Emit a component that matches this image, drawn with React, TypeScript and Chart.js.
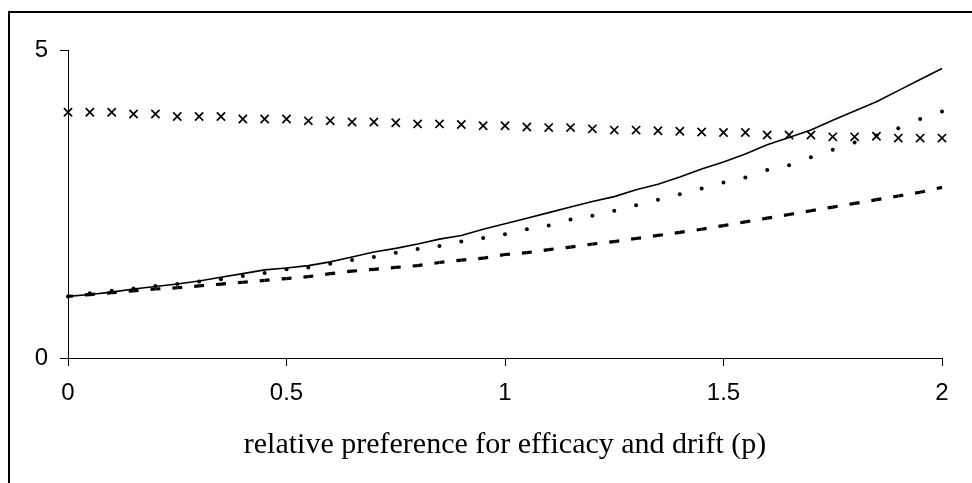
import React, { useEffect, useRef } from "react";
import { Chart, registerables } from "chart.js";

Chart.register(...registerables);

const P = [
  0, 0.05, 0.1, 0.15, 0.2, 0.25, 0.3, 0.35, 0.4, 0.45, 0.5, 0.55, 0.6, 0.65, 0.7, 0.75, 0.8, 0.85, 0.9, 0.95,
  1, 1.05, 1.1, 1.15, 1.2, 1.25, 1.3, 1.35, 1.4, 1.45, 1.5, 1.55, 1.6, 1.65, 1.7, 1.75, 1.8, 1.85, 1.9, 1.95, 2,
];

const SOLID = [
  1.0, 1.03, 1.07, 1.12, 1.16, 1.2, 1.25, 1.31, 1.37, 1.43, 1.46, 1.5, 1.56, 1.64, 1.72, 1.78, 1.85, 1.93, 1.99, 2.09,
  2.18, 2.27, 2.36, 2.45, 2.54, 2.62, 2.73, 2.82, 2.94, 3.07, 3.18, 3.31, 3.46, 3.58, 3.7, 3.86, 4.01, 4.16, 4.34, 4.52, 4.7,
];

const DOTTED = [
  1.0, 1.05, 1.09, 1.13, 1.17, 1.2, 1.24, 1.28, 1.33, 1.38, 1.44, 1.47, 1.53, 1.59, 1.64, 1.71, 1.77, 1.82, 1.89, 1.95,
  2.01, 2.09, 2.15, 2.25, 2.31, 2.39, 2.48, 2.57, 2.66, 2.75, 2.85, 2.93, 3.05, 3.13, 3.26, 3.38, 3.5, 3.61, 3.73, 3.88, 4.0,
];

const DASHED = [
  1.0, 1.03, 1.06, 1.09, 1.12, 1.14, 1.17, 1.2, 1.23, 1.26, 1.29, 1.32, 1.37, 1.41, 1.44, 1.47, 1.5, 1.55, 1.59, 1.62,
  1.68, 1.71, 1.76, 1.8, 1.85, 1.89, 1.94, 1.99, 2.04, 2.09, 2.15, 2.21, 2.27, 2.33, 2.39, 2.45, 2.51, 2.57, 2.63, 2.69, 2.77,
];

const CROSSES = [
  3.99, 3.99, 3.99, 3.96, 3.96, 3.92, 3.92, 3.92, 3.88, 3.88, 3.88, 3.85, 3.85, 3.83, 3.83, 3.82, 3.8, 3.8, 3.79, 3.77,
  3.77, 3.75, 3.74, 3.74, 3.72, 3.7, 3.7, 3.69, 3.68, 3.67, 3.66, 3.66, 3.62, 3.62, 3.62, 3.59, 3.59, 3.6, 3.57, 3.57, 3.57,
];

const X_TICKS = [0, 0.5, 1, 1.5, 2];
const X_TICK_LABELS = ["0", "0.5", "1", "1.5", "2"];
const Y_TICKS = [0, 5];
const Y_TICK_LABELS = ["0", "5"];
const X_TITLE = "relative preference for efficacy and drift (p)";

const toXY = (ys: number[]) => P.map((x, i) => ({ x, y: ys[i] }));

export default function App() {
  const canvasRef = useRef<HTMLCanvasElement | null>(null);

  useEffect(() => {
    const canvas = canvasRef.current;
    if (!canvas) return;
    const tickFont = { family: "'Liberation Sans', Arial, sans-serif", size: 24 };
    const chart = new Chart(canvas, {
      type: "scatter",
      data: {
        datasets: [
          {
            label: "solid",
            data: toXY(SOLID),
            showLine: true,
            borderColor: "#000",
            borderWidth: 1.6,
            pointRadius: 0,
            tension: 0,
            clip: false,
          },
          {
            label: "dashed",
            data: toXY(DASHED),
            showLine: true,
            borderColor: "#000",
            borderWidth: 3.2,
            borderDash: [10, 12],
            pointRadius: 0,
            tension: 0,
            clip: false,
            segment: {
              borderDashOffset: (ctx: any) => 5 + (ctx.p0DataIndex % 2) * 0.000001,
            },
          },
          {
            label: "dotted",
            data: toXY(DOTTED),
            showLine: false,
            pointStyle: "circle",
            pointRadius: 2,
            pointBackgroundColor: "#000",
            pointBorderColor: "#000",
            pointBorderWidth: 0,
            clip: false,
          },
          {
            label: "crosses",
            data: toXY(CROSSES),
            showLine: false,
            pointStyle: "crossRot",
            pointRadius: 5.8,
            pointBorderColor: "#000",
            pointBackgroundColor: "#000",
            pointBorderWidth: 1.7,
            clip: false,
          },
        ],
      },
      options: {
        animation: false,
        responsive: true,
        maintainAspectRatio: false,
        layout: { padding: { left: 0, right: 30, top: 50, bottom: 0 } },
        plugins: { legend: { display: false }, tooltip: { enabled: false } },
        scales: {
          x: {
            type: "linear",
            min: 0,
            max: 2,
            afterBuildTicks: (scale: any) => {
              scale.ticks = X_TICKS.map((v) => ({ value: v }));
            },
            afterFit: (scale: any) => {
              scale.height = 125;
            },
            ticks: {
              color: "#000",
              font: tickFont,
              padding: 13,
              maxRotation: 0,
              autoSkip: false,
              callback: (_v: any, i: number) => X_TICK_LABELS[i],
            },
            grid: { drawOnChartArea: false, tickLength: 8, tickColor: "#000", tickWidth: 1 },
            border: { color: "#000", width: 1 },
            title: {
              display: true,
              text: X_TITLE,
              color: "#000",
              font: { family: "'Liberation Serif', 'Times New Roman', serif", size: 30 },
              padding: { top: 0, bottom: 20 },
            },
          },
          y: {
            type: "linear",
            min: 0,
            max: 5,
            afterBuildTicks: (scale: any) => {
              scale.ticks = Y_TICKS.map((v) => ({ value: v }));
            },
            afterFit: (scale: any) => {
              scale.width = 68;
            },
            ticks: {
              color: "#000",
              font: tickFont,
              padding: 12,
              callback: (_v: any, i: number) => Y_TICK_LABELS[i],
            },
            grid: { drawOnChartArea: false, tickLength: 8, tickColor: "#000", tickWidth: 1 },
            border: { color: "#000", width: 1 },
          },
        },
      },
    } as any);
    return () => chart.destroy();
  }, []);

  return (
    <div
      style={{
        position: "absolute",
        left: 0,
        top: 0,
        width: 972,
        height: 483,
        overflow: "hidden",
        background: "#fff",
      }}
    >
      <div
        style={{
          position: "absolute",
          left: 8,
          top: 11,
          width: 1000,
          height: 520,
          borderLeft: "2px solid #000",
          borderTop: "2px solid #000",
          boxSizing: "border-box",
        }}
      />
      <div style={{ position: "absolute", left: 0, top: 0, width: 972, height: 483 }}>
        <canvas ref={canvasRef} />
      </div>
    </div>
  );
}
